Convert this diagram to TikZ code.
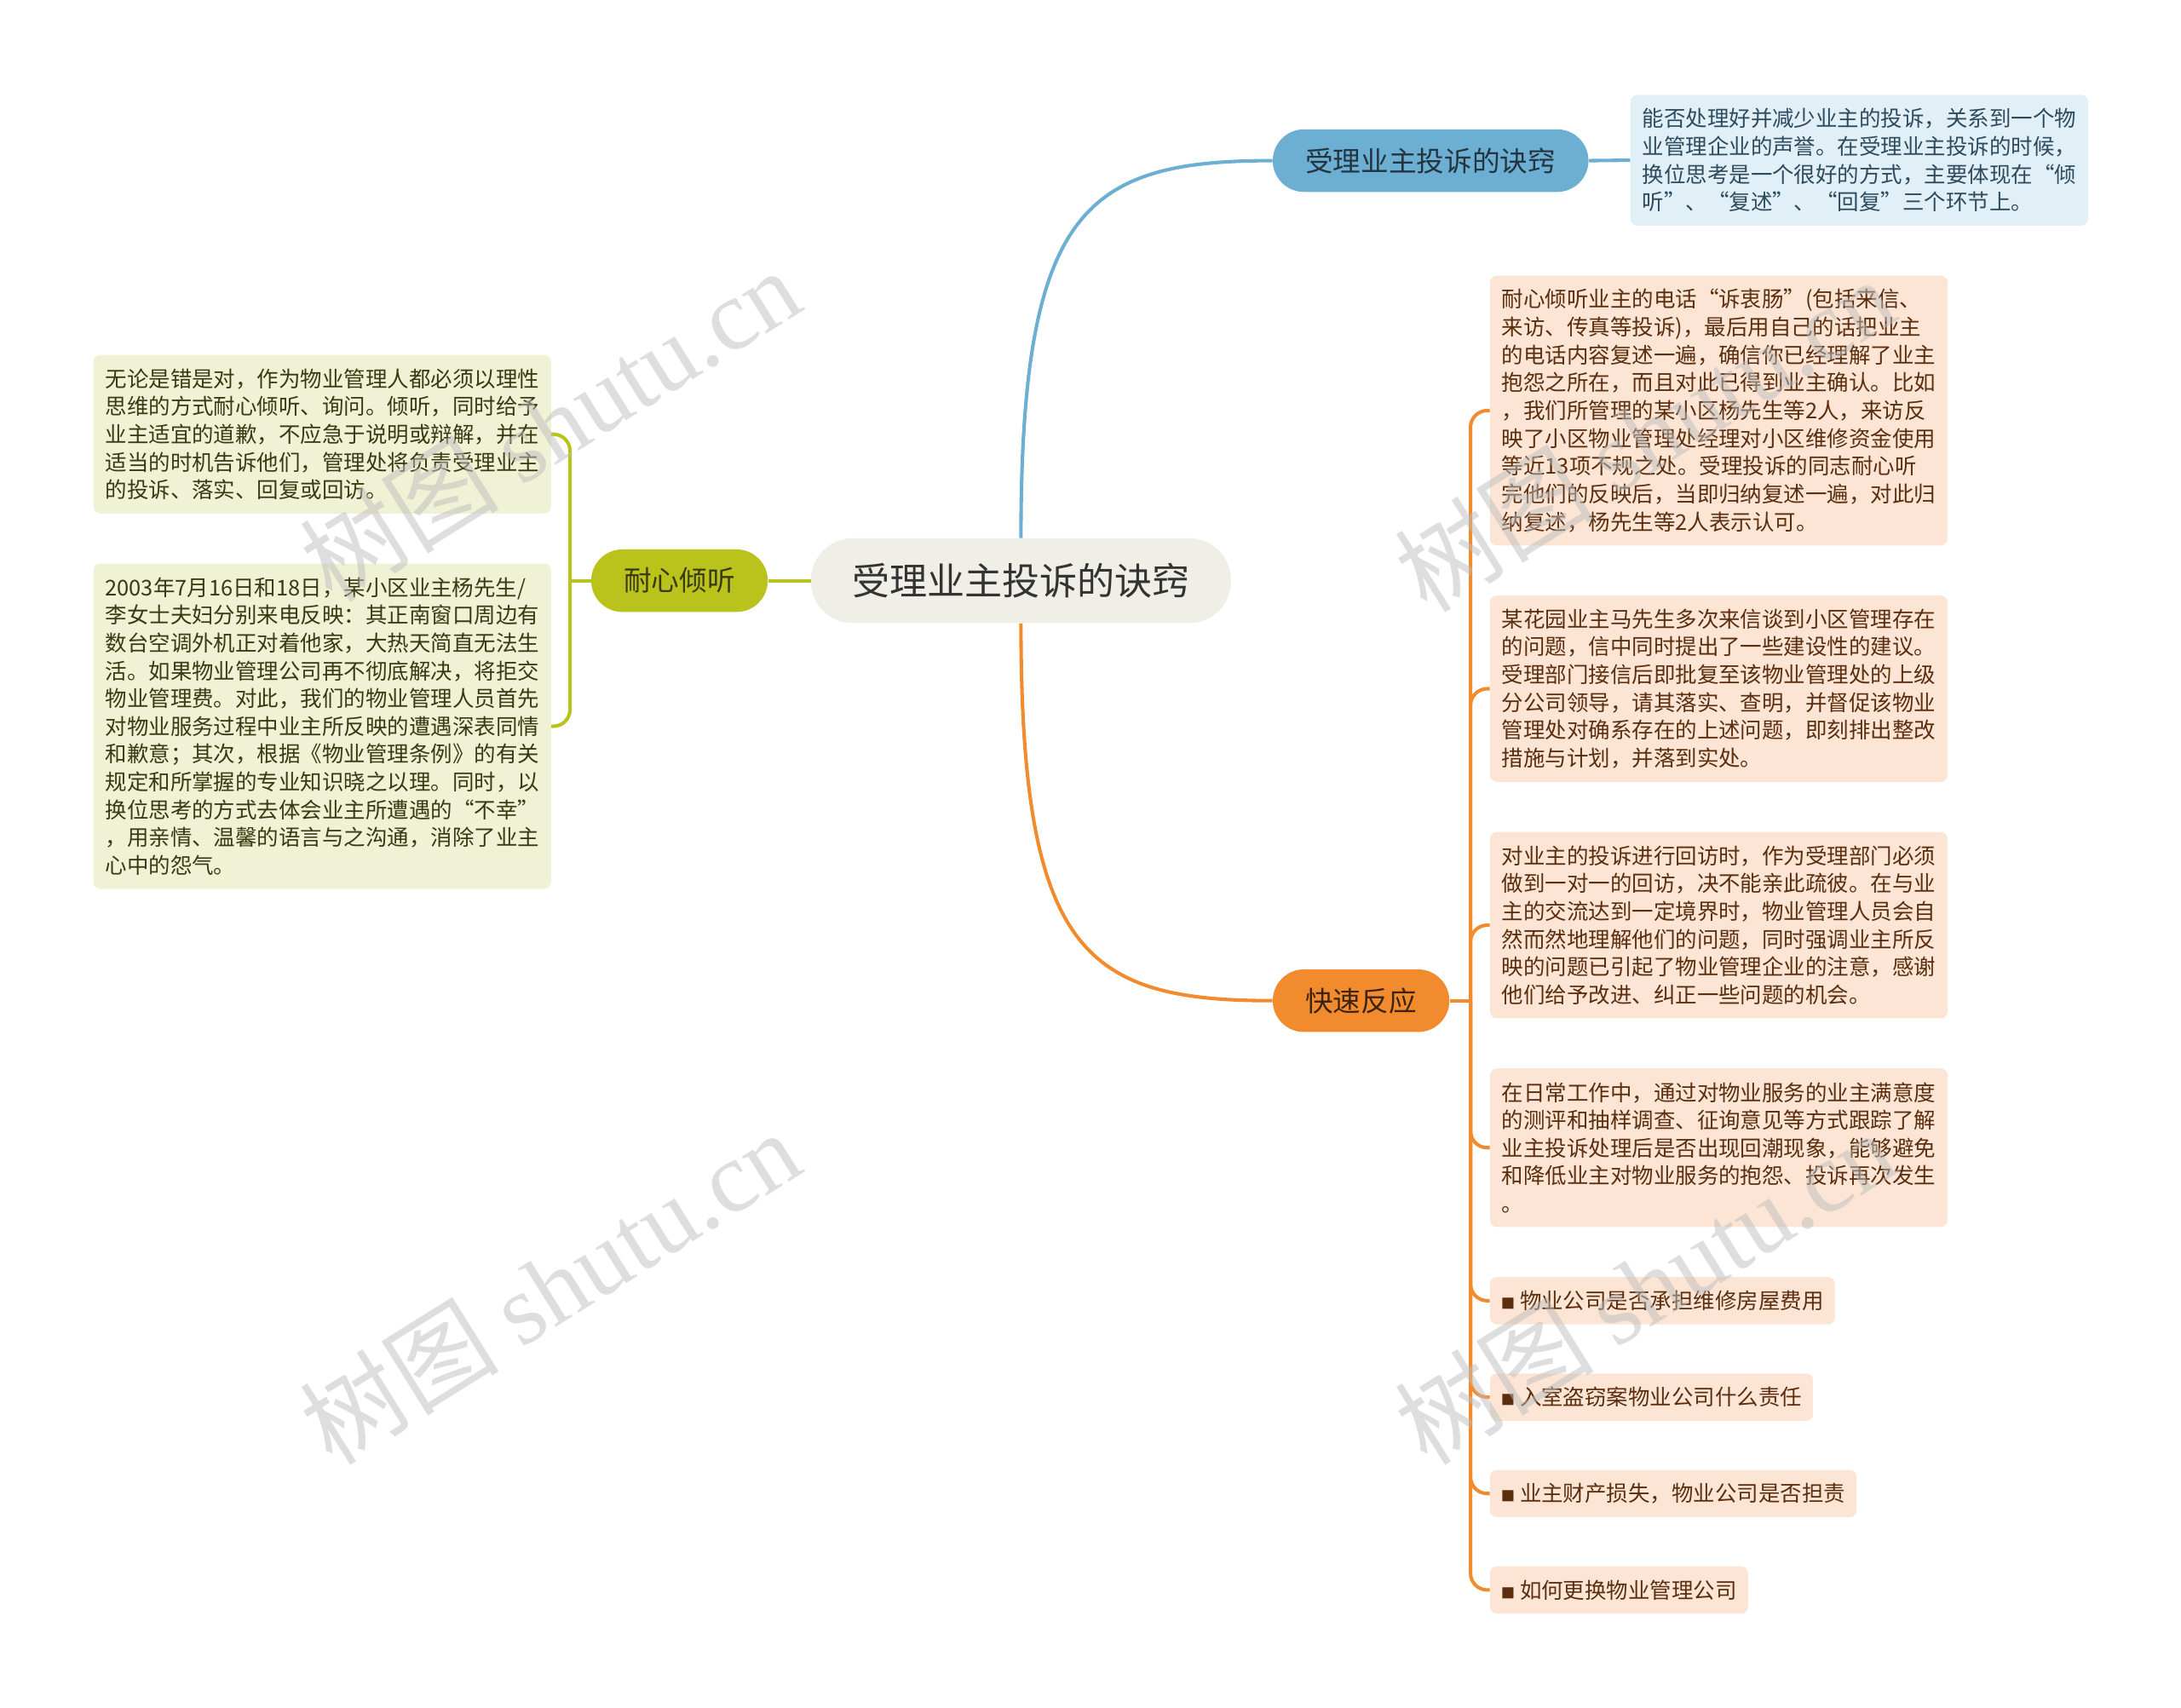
\documentclass[tikz,border=0pt]{standalone}
\usepackage{fontspec}
\setmainfont{Noto Sans CJK SC}
\newfontfamily\wmlatin{Liberation Serif}
\usetikzlibrary{positioning}

\definecolor{rootfill}{HTML}{EFEFE8}
\definecolor{rootink}{HTML}{333333}
\definecolor{olive}{HTML}{BAC31C}
\definecolor{oliveink}{HTML}{3A3A12}
\definecolor{olivebg}{HTML}{F0F2D6}
\definecolor{sky}{HTML}{6CAFD3}
\definecolor{skyink}{HTML}{23343E}
\definecolor{skybg}{HTML}{E1EFF7}
\definecolor{skytxt}{HTML}{2E4B5E}
\definecolor{tang}{HTML}{F18B2E}
\definecolor{tangink}{HTML}{3E2410}
\definecolor{tangbg}{HTML}{FCE5D5}
\definecolor{tangtxt}{HTML}{5A2E0E}
\definecolor{wmgray}{HTML}{BEBEBE}

\begin{document}
\begin{tikzpicture}[x=1pt, y=-1pt,
  rootnode/.style={fill=rootfill, text=rootink, rounded corners=30, minimum width=302, minimum height=61,
    inner sep=0, font=\fontsize{27}{30}\selectfont},
  branch/.style={rounded corners=22.5, minimum height=45, inner xsep=23.5, inner ysep=0,
    font=\fontsize{20}{24}\selectfont},
  dbox/.style={anchor=north west, align=left, rounded corners=5, inner xsep=8, inner ysep=0,
    minimum height=#1*20+14, font=\fontsize{15.6}{20}\selectfont},
  wide/.style={minimum width=329},
  link/.style={line width=2.5pt},
  wmark/.style={text=wmgray, opacity=0.5, rotate=32, font=\fontsize{72}{78}\selectfont}]
\useasboundingbox (0,0) rectangle (1568,1228);

% centre and main branches
\node[rootnode] (root) at (734,417.5) {受理业主投诉的诀窍};
\node[branch, fill=olive, text=oliveink] (lis) at (488.5,417.5) {耐心倾听};
\node[branch, fill=sky, text=skyink] (key) at (1028.5,115.5) {受理业主投诉的诀窍};
\node[branch, fill=tang, text=tangink] (fast) at (978.5,719.5) {快速反应};

% details
\node[dbox=4, wide, fill=skybg, text=skytxt] (keytxt) at (1172,68)
  {能否处理好并减少业主的投诉，关系到一个物\\业管理企业的声誉。在受理业主投诉的时候，\\换位思考是一个很好的方式，主要体现在“倾\\听”、“复述”、“回复”三个环节上。};

\node[dbox=9, wide, fill=tangbg, text=tangtxt] (fast1) at (1071,198)
  {耐心倾听业主的电话“诉衷肠”(包括来信、\\来访、传真等投诉)，最后用自己的话把业主\\的电话内容复述一遍，确信你已经理解了业主\\抱怨之所在，而且对此已得到业主确认。比如\\，我们所管理的某小区杨先生等2人，来访反\\映了小区物业管理处经理对小区维修资金使用\\等近13项不规之处。受理投诉的同志耐心听\\完他们的反映后，当即归纳复述一遍，对此归\\纳复述，杨先生等2人表示认可。};
\node[dbox=6, wide, fill=tangbg, text=tangtxt] (fast2) at (1071,428)
  {某花园业主马先生多次来信谈到小区管理存在\\的问题，信中同时提出了一些建设性的建议。\\受理部门接信后即批复至该物业管理处的上级\\分公司领导，请其落实、查明，并督促该物业\\管理处对确系存在的上述问题，即刻排出整改\\措施与计划，并落到实处。};
\node[dbox=6, wide, fill=tangbg, text=tangtxt] (fast3) at (1071,598)
  {对业主的投诉进行回访时，作为受理部门必须\\做到一对一的回访，决不能亲此疏彼。在与业\\主的交流达到一定境界时，物业管理人员会自\\然而然地理解他们的问题，同时强调业主所反\\映的问题已引起了物业管理企业的注意，感谢\\他们给予改进、纠正一些问题的机会。};
\node[dbox=5, wide, fill=tangbg, text=tangtxt] (fast4) at (1071,768)
  {在日常工作中，通过对物业服务的业主满意度\\的测评和抽样调查、征询意见等方式跟踪了解\\业主投诉处理后是否出现回潮现象，能够避免\\和降低业主对物业服务的抱怨、投诉再次发生\\。};
\foreach \t [count=\i] in {物业公司是否承担维修房屋费用, 入室盗窃案物业公司什么责任,
    业主财产损失，物业公司是否担责, 如何更换物业管理公司}
  \pgfmathtruncatemacro{\n}{\i+4}
  \node[dbox=1, fill=tangbg, text=tangtxt] (fast\n) at (1071,918+69.33*\i-69.33)
    {{\fontsize{10}{10}\selectfont ■}\ \t};

\node[dbox=5, wide, fill=olivebg, text=oliveink] (lis1) at (67,255)
  {无论是错是对，作为物业管理人都必须以理性\\思维的方式耐心倾听、询问。倾听，同时给予\\业主适宜的道歉，不应急于说明或辩解，并在\\适当的时机告诉他们，管理处将负责受理业主\\的投诉、落实、回复或回访。};
\node[dbox=11, wide, fill=olivebg, text=oliveink] (lis2) at (67,405)
  {2003年7月16日和18日，某小区业主杨先生/\\李女士夫妇分别来电反映：其正南窗口周边有\\数台空调外机正对着他家，大热天简直无法生\\活。如果物业管理公司再不彻底解决，将拒交\\物业管理费。对此，我们的物业管理人员首先\\对物业服务过程中业主所反映的遭遇深表同情\\和歉意；其次，根据《物业管理条例》的有关\\规定和所掌握的专业知识晓之以理。同时，以\\换位思考的方式去体会业主所遭遇的“不幸”\\，用亲情、温馨的语言与之沟通，消除了业主\\心中的怨气。};

% connectors
\draw[link, sky] (root.north) .. controls (734,150) and (780,115.5) .. (key.west);
\draw[link, sky] (key.east) -- (keytxt.west);
\draw[link, tang] (root.south) .. controls (734,685) and (780,719.5) .. (fast.west);
\draw[link, olive] (lis.east) -- (root.west);

\coordinate (lisj) at ([xshift=-15]lis.west);
\draw[link, olive] (lis.west) -- (lisj);
\foreach \n in {lis1,lis2}
  \draw[link, olive, rounded corners=12] (lisj) |- (\n.east);

\coordinate (fastj) at ([xshift=15]fast.east);
\draw[link, tang] (fast.east) -- (fastj);
\foreach \n in {1,...,8}
  \draw[link, tang, rounded corners=12] (fastj) |- (fast\n.west);

% watermark
\foreach \p [count=\i] in {(395,305),(395,925),(1182,312),(1182,925)}
  \node[wmark] (wm\i) at \p {树图 {\wmlatin shutu.cn}};
\end{tikzpicture}
\end{document}
